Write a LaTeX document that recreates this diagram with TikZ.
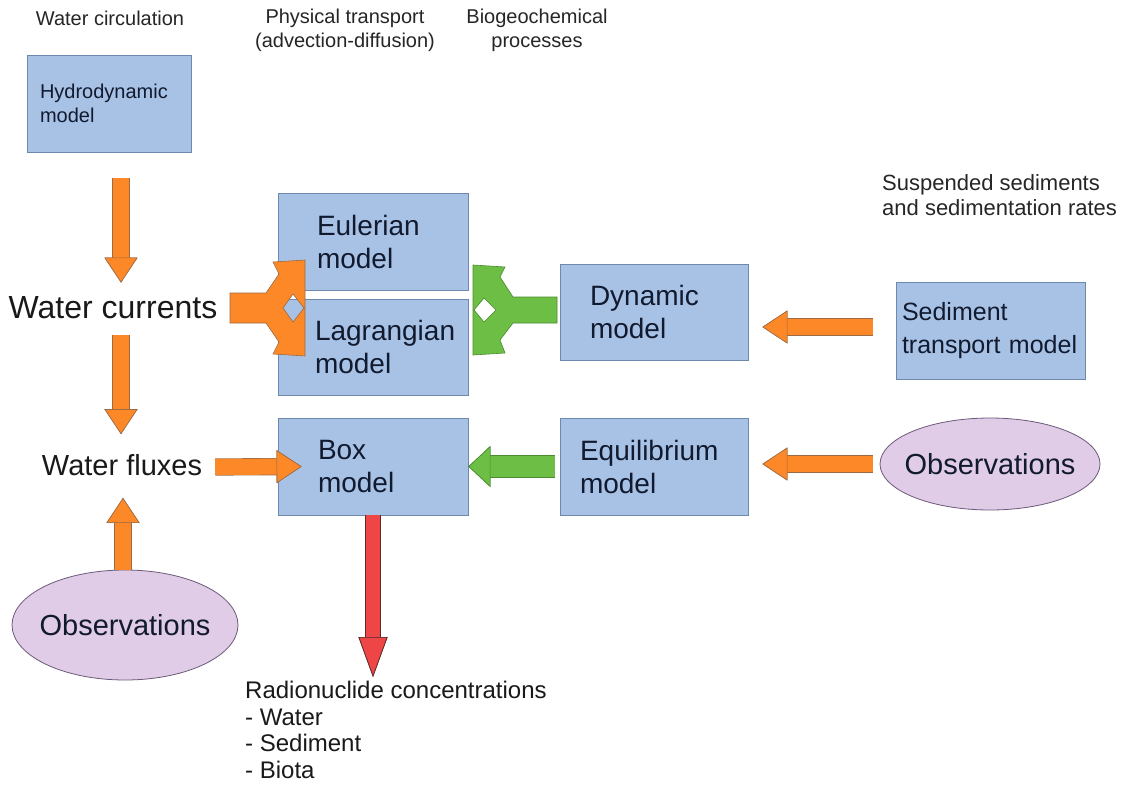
\documentclass[tikz,border=0pt]{standalone}
\usepackage{fontspec}
\setmainfont{Liberation Sans}
\usepackage{xcolor}
\usetikzlibrary{arrows.meta,positioning,shapes.geometric}

\definecolor{boxfill}{HTML}{A8C2E6}
\definecolor{boxline}{HTML}{6E88AE}
\definecolor{boxtext}{HTML}{111A2E}
\definecolor{orfill}{HTML}{FC8828}
\definecolor{orline}{HTML}{9C6B46}
\definecolor{grfill}{HTML}{6DBE45}
\definecolor{grline}{HTML}{4A8B30}
\definecolor{rdfill}{HTML}{EE4646}
\definecolor{rdline}{HTML}{5C2B2B}
\definecolor{obfill}{HTML}{E0CCE6}
\definecolor{obline}{HTML}{6C5A7A}

\newcommand{\fsz}[2]{\fontsize{#1}{#2}\selectfont}

\begin{document}
\begin{tikzpicture}[x=1pt, y=-1pt,
  mbox/.style={draw=boxline, fill=boxfill, line width=0.8pt, minimum height=97pt, align=left, text=boxtext, font=\fsz{28}{33}},
  obs/.style={ellipse, draw=obline, fill=obfill, line width=0.8pt, inner sep=0pt, text=boxtext, font=\fsz{29}{33}},
  hdr/.style={align=center, inner sep=0pt, font=\fsz{20}{24}, text=black!85},
  lbl/.style={inner sep=0pt, font=\fsz{29}{33}, text=black!90},
  oarr/.style={line width=16pt, draw=orfill, preaction={draw=orline, line width=17.2pt},
    -{Triangle[length=25pt, width=33pt, line width=0.6pt, color=orline, fill=orfill]}},
  garr/.style={line width=21pt, draw=grfill, preaction={draw=grline, line width=22.2pt},
    -{Triangle[length=22pt, width=41pt, line width=0.6pt, color=grline, fill=grfill]}},
  rarr/.style={line width=14pt, draw=rdfill, preaction={draw=rdline, line width=15.4pt},
    -{Triangle[length=40pt, width=29pt, line width=0.7pt, color=rdline, fill=rdfill]}},
  ofork/.style={fill=orfill, draw=orline, line width=0.6pt, even odd rule},
  gfork/.style={fill=grfill, draw=grline, line width=0.6pt, even odd rule}
]
\fill[white] (0,0) rectangle (1131,784);
\useasboundingbox (0,0) rectangle (1131,784);

% column headings
\node[hdr] (hcirc) at (110,18) {Water circulation};
\node[hdr] (htrans) at (345,30) {Physical transport\\(advection-diffusion)};
\node[hdr] (hbio) at (537,30) {Biogeochemical\\processes};
\node[hdr, align=left, anchor=west, font=\fsz{22}{25}] (hsusp) at (882,195) {Suspended sediments\\and sedimentation rates};

% models
\node[mbox, font=\fsz{20}{24}, text width=138pt, inner xsep=13pt] (hydro) at (109,103.5) {Hydrodynamic\\model};
\node[mbox, text width=112pt, inner xsep=39pt] (euler) at (373,241.5) {Eulerian\\model};
\node[mbox, text width=116pt, inner xsep=37pt, minimum height=96pt] (lagr) at (373,347) {Lagrangian\\model};
\node[mbox, text width=110pt, inner xsep=40pt] (boxm) at (373,466.5) {Box\\model};
\node[mbox, text width=128pt, inner xsep=30pt, minimum height=96pt] (dyn) at (654,312) {Dynamic\\model};
\node[mbox, text width=148pt, inner xsep=20pt] (equi) at (654,466.5) {Equilibrium\\model};
\node[mbox, font=\fsz{25}{33}, text width=177pt, inner xsep=6pt] (sedt) at (990.5,331) {Sediment\\transport model};

\node[obs, minimum width=220pt, minimum height=92pt] (obsR) at (990,464) {\makebox[0pt]{Observations}};
\node[obs, minimum width=226pt, minimum height=110pt] (obsL) at (125,625) {\makebox[0pt]{Observations}};

% plain labels
\node[lbl, font=\fsz{32}{36}] (curr) at (113,308) {Water currents};
\node[lbl] (flux) at (122,465) {Water fluxes};
\node[lbl, align=left, anchor=north west, font=\fsz{24}{26.5}] (radio) at (245,681) {Radionuclide concentrations\\- Water\\- Sediment\\- Biota};

% block arrows
\draw[oarr] ([xshift=12pt,yshift=-26pt]hydro.south) -- ([xshift=8pt,yshift=14pt]curr.north);
\draw[oarr] ([xshift=8pt,yshift=-16pt]curr.south) -- ([xshift=-1pt,yshift=20pt]flux.north);
\draw[oarr] ([xshift=-2pt]obsL.north) -- ([xshift=1pt,yshift=-22pt]flux.south);
\draw[oarr] ([xshift=13pt,yshift=-2pt]flux.east) -- ([xshift=24pt]boxm.west);
\draw[oarr] ([xshift=-23pt,yshift=4pt]sedt.west) -- ([xshift=14pt,yshift=4pt]sedt.west -| dyn.east);
\draw[oarr] ([xshift=-7pt]obsR.west) -- ([xshift=14pt]obsR.west -| equi.east);
\draw[garr] ([xshift=-5pt]equi.west) -- (boxm.east);
\draw[rarr] (boxm.south) -- ([yshift=4pt]boxm.south |- radio.north);

% split arrows
\draw[ofork] (230,293) -- (266,293) -- (279,274) -- (273,262) -- (305,260) -- (305,356)
  -- (273,354) -- (279,342) -- (266,323) -- (230,323) -- cycle
  (293,294) -- (304,308) -- (293,322) -- (283,308) -- cycle;
\draw[gfork] (557,297) -- (513,297) -- (500,277) -- (505,267) -- (473,265) -- (473,355)
  -- (505,353) -- (500,340) -- (513,323) -- (557,323) -- cycle
  (484,298) -- (496,310) -- (484,322) -- (474,310) -- cycle;
\end{tikzpicture}
\end{document}
